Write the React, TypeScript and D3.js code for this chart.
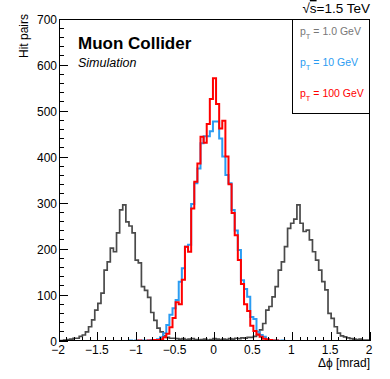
import * as React from 'react';
import * as d3 from 'd3';

// 101 bins of 0.04 mrad, bin 50 centred on 0
const binLow = -2.02;
const binWidth = 0.04;

const pt1GeV = [
  1, 1, 2, 3, 4, 6, 6, 10, 13, 20,
  31, 46, 67, 82, 104, 154, 172, 202, 194, 235,
  285, 296, 259, 250, 235, 176, 170, 118, 110, 95,
  62, 45, 28, 20, 11, 8, 6, 6, 5, 4,
  5, 3, 4, 5, 3, 2, 3, 4, 2, 3,
  5, 4, 3, 4, 3, 5, 4, 6, 5, 7,
  6, 8, 8, 10, 14, 24, 38, 67, 75, 96,
  118, 154, 172, 205, 245, 256, 265, 296, 256, 238,
  241, 220, 194, 176, 154, 129, 111, 60, 49, 31,
  17, 11, 9, 7, 5, 4, 3, 4, 2, 2,
  1,
];

const pt10GeV = [
  0, 0, 0, 0, 0, 0, 0, 0, 0, 0,
  0, 0, 0, 0, 0, 0, 0, 0, 0, 0,
  0, 0, 0, 1, 0, 1, 0, 1, 1, 1,
  2, 2, 4, 8, 17, 35, 57, 71, 89, 129,
  158, 205, 209, 298, 343, 375, 430, 445, 445, 456,
  477, 477, 440, 401, 361, 343, 285, 240, 198, 132,
  113, 96, 52, 48, 20, 13, 9, 4, 2, 1,
  1, 0, 1, 0, 0, 0, 0, 0, 0, 0,
  0, 0, 0, 0, 0, 0, 0, 0, 0, 0,
  0, 0, 0, 0, 0, 0, 0, 0, 0, 0,
  0,
];

const pt100GeV = [
  0, 0, 0, 0, 0, 0, 0, 0, 0, 0,
  0, 0, 0, 0, 0, 0, 0, 0, 0, 0,
  0, 0, 0, 0, 0, 0, 1, 0, 0, 1,
  1, 2, 2, 4, 8, 16, 30, 50, 84, 80,
  133, 205, 194, 288, 346, 386, 444, 431, 472, 526,
  571, 515, 462, 479, 401, 341, 278, 230, 176, 124,
  80, 65, 33, 22, 14, 9, 5, 3, 2, 1,
  1, 0, 0, 0, 0, 0, 0, 0, 0, 0,
  0, 0, 0, 0, 0, 0, 0, 0, 0, 0,
  0, 0, 0, 0, 0, 0, 0, 0, 0, 0,
  0,
];

const xTickLabels = ['−2', '−1.5', '−1', '−0.5', '0', '0.5', '1', '1.5', '2'];
const yTickLabels = ['0', '100', '200', '300', '400', '500', '600', '700'];
const legendLabels = ['1.0 GeV', '10 GeV', '100 GeV'];

const font = '"Liberation Sans", Arial, Helvetica, sans-serif';

export default function App() {
  const x = d3.scaleLinear().domain([-2, 2]).range([59, 370]);
  const y = d3.scaleLinear().domain([0, 700]).range([341, 19]);

  const stepLine = d3
    .line<[number, number]>()
    .x(d => x(d[0]))
    .y(d => y(d[1]));

  const histPath = (values: number[]) => {
    const pts: [number, number][] = [[binLow, 0]];
    values.forEach((v, i) => {
      const lo = binLow + i * binWidth;
      pts.push([lo, v], [lo + binWidth, v]);
    });
    pts.push([binLow + values.length * binWidth, 0]);
    return stepLine(pts) || '';
  };

  const series = [
    { values: pt1GeV, line: '#4a4a4a', text: '#777777', width: 1.7 },
    { values: pt10GeV, line: '#2b9cf2', text: '#2b9cf2', width: 2 },
    { values: pt100GeV, line: '#ff0000', text: '#ff0000', width: 2 },
  ];

  const xMajor = x.ticks(8);
  const xMinor = x.ticks(40).filter(t => !xMajor.some(m => Math.abs(m - t) < 1e-9));
  const yMajor = y.ticks(7);
  const yMinor = y.ticks(35).filter(t => !yMajor.includes(t));

  const [x0, x1] = x.range();
  const [y0, y1] = y.range();

  return (
    <svg
      width={390}
      height={379}
      style={{ position: 'absolute', left: 0, top: 0, background: '#fff' }}
      fontFamily={font}
    >
      <defs>
        <clipPath id="frame">
          <rect x={x0} y={y1} width={x1 - x0} height={y0 - y1} />
        </clipPath>
      </defs>

      <g clipPath="url(#frame)" fill="none" strokeLinejoin="miter">
        {series.map((s, i) => (
          <path key={i} d={histPath(s.values)} stroke={s.line} strokeWidth={s.width} />
        ))}
      </g>

      {/* frame */}
      <rect
        x={x0 + 0.5}
        y={y1 + 0.5}
        width={x1 - x0 - 1}
        height={y0 - y1 - 1}
        fill="none"
        stroke="#000"
        strokeWidth={1}
        shapeRendering="crispEdges"
      />

      {/* ticks */}
      <g stroke="#000" strokeWidth={1} shapeRendering="crispEdges">
        {xMajor.map(t => (
          <line key={'xM' + t} x1={x(t)} x2={x(t)} y1={y0} y2={y0 - 9} />
        ))}
        {xMinor.map(t => (
          <line key={'xm' + t} x1={x(t)} x2={x(t)} y1={y0} y2={y0 - 4.5} />
        ))}
        {yMajor.map(t => (
          <line key={'yM' + t} x1={x0} x2={x0 + 9} y1={y(t)} y2={y(t)} />
        ))}
        {yMinor.map(t => (
          <line key={'ym' + t} x1={x0} x2={x0 + 4.5} y1={y(t)} y2={y(t)} />
        ))}
      </g>

      <g fontSize={12} fill="#000">
        {xMajor.map((t, i) => (
          <text key={'xl' + t} x={x(t) - 1} y={354} textAnchor="middle">
            {xTickLabels[i]}
          </text>
        ))}
        {yMajor.map((t, i) => (
          <text key={'yl' + t} x={57} y={y(t) + 4.5} textAnchor="end">
            {yTickLabels[i]}
          </text>
        ))}
      </g>

      <text x={370} y={367} textAnchor="end" fontSize={12}>
        Δϕ [mrad]
      </text>
      <text transform="translate(28,14) rotate(-90)" textAnchor="end" fontSize={12}>
        Hit pairs
      </text>

      <text x={370} y={13} textAnchor="end" fontSize={13.5}>
        √<tspan textDecoration="overline">s</tspan>=1.5 TeV
      </text>

      <text x={78} y={49} fontSize={17} fontWeight="bold">
        Muon Collider
      </text>
      <text x={78} y={67} fontSize={12.5} fontStyle="italic">
        Simulation
      </text>

      {/* legend */}
      <rect
        x={292.5}
        y={y1 + 0.5}
        width={x1 - 292.5 - 0.5}
        height={94}
        fill="#fff"
        stroke="#000"
        strokeWidth={1}
        shapeRendering="crispEdges"
      />
      {series.map((s, i) => (
        <text key={'lg' + i} x={300} y={35 + i * 31} fontSize={10.5} fill={s.text}>
          p
          <tspan fontSize={7.5} dy={4}>
            T
          </tspan>
          <tspan dy={-4}>{' = ' + legendLabels[i]}</tspan>
        </text>
      ))}
    </svg>
  );
}
